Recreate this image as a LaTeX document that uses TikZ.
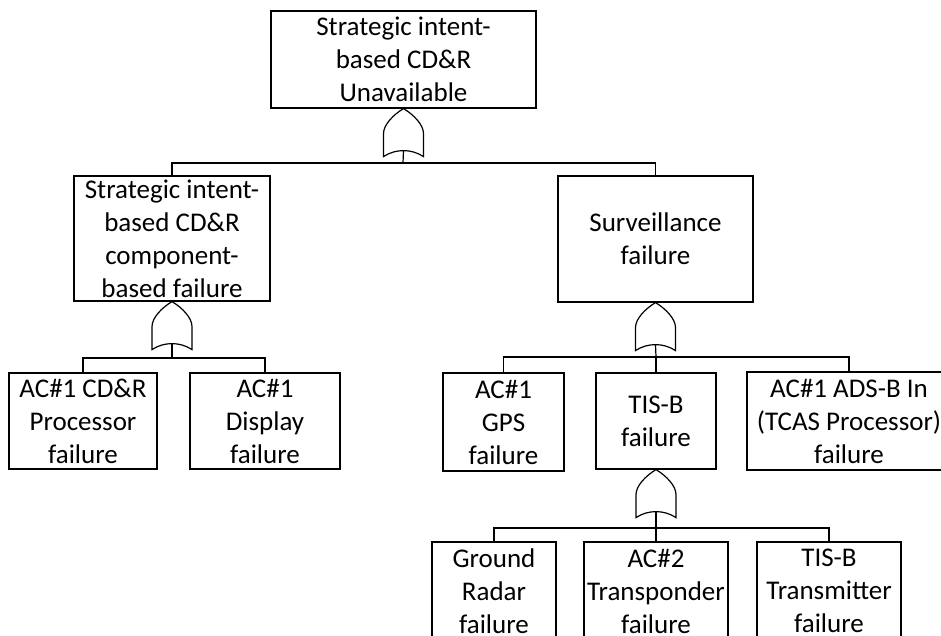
\documentclass[tikz,border=0pt]{standalone}
\usepackage{fontspec}
\setmainfont{Carlito}
\begin{document}
\begin{tikzpicture}[x=1pt,y=-1pt,
  line width=1.2pt,
  event/.style={draw, rectangle, inner sep=0pt, align=center,
    font=\fontsize{27}{33}\selectfont},
  pics/orgate/.style={code={
    \draw (-20,48) -- (-20,25) .. controls (-20,16) and (-10,6) .. (0,0)
          .. controls (10,6) and (20,16) .. (20,25) -- (20,48)
          .. controls (8,40) and (-8,40) .. cycle;
    \coordinate (-out) at (0,42);
  }}]
\clip (0,0) rectangle (941,636);
\fill[white] (0,0) rectangle (941,636);

% events
\node[event, minimum width=265pt, minimum height=97pt] (top) at (403.5,59.5)
  {Strategic intent-\\based CD\&R\\Unavailable};
\node[event, minimum width=196pt, minimum height=125pt] (comp) at (172,238.5)
  {Strategic intent-\\based CD\&R\\component-\\based failure};
\node[event, minimum width=195pt, minimum height=126pt] (surv) at (655.5,239)
  {Surveillance\\failure};
\node[event, minimum width=148pt, minimum height=96pt] (proc) at (83,421)
  {AC\#1 CD\&R\\Processor\\failure};
\node[event, minimum width=150pt, minimum height=96pt] (disp) at (265,421)
  {AC\#1\\Display\\failure};
\node[event, minimum width=121pt, minimum height=98pt] (gps) at (503.5,422)
  {AC\#1\\GPS\\failure};
\node[event, minimum width=120pt, minimum height=96pt] (tisb) at (656,421)
  {TIS-B\\failure};
\node[event, minimum width=204pt, minimum height=98pt] (adsb) at (849,421)
  {AC\#1 ADS-B In\\(TCAS Processor)\\failure};
\node[event, minimum width=124pt, minimum height=98pt] (radar) at (494,591)
  {Ground\\Radar\\failure};
\node[event, minimum width=144pt, minimum height=98pt] (xpdr) at (656,591)
  {AC\#2\\Transponder\\failure};
\node[event, minimum width=144pt, minimum height=98pt] (xmtr) at (829,591)
  {TIS-B\\Transmitter\\failure};

% OR gates
\pic (g1) at (top.south) {orgate};
\pic (g2) at (comp.south) {orgate};
\pic (g3) at (surv.south) {orgate};
\pic (g4) at (tisb.south) {orgate};

% branch points
\coordinate (b1) at (403,163);
\coordinate (b2) at (172,358);
\coordinate (b3) at (656,357);
\coordinate (b4) at (656,528);

% connectors
\draw (g1-out) -- (b1);
\draw (b1) -| (comp.north);
\draw (b1) -| (surv.north);

\draw (g2-out) -- (b2);
\draw (b2) -| (proc.north);
\draw (b2) -| (disp.north);

\draw (g3-out) -- (b3);
\draw (b3) -| (gps.north);
\draw (b3) -- (tisb.north);
\draw (b3) -| (adsb.north);

\draw (g4-out) -- (b4);
\draw (b4) -| (radar.north);
\draw (b4) -- (xpdr.north);
\draw (b4) -| (xmtr.north);
\end{tikzpicture}
\end{document}
